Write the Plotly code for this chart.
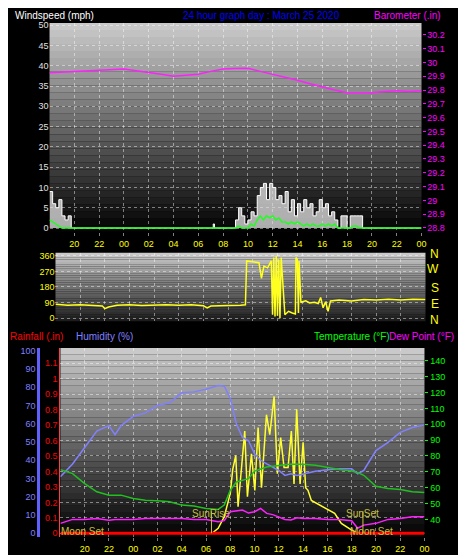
import plotly.graph_objs as go

# time axis: hours since 18:00 the day before (0..30)
hour_ticks = [2, 4, 6, 8, 10, 12, 14, 16, 18, 20, 22, 24, 26, 28, 30]
hour_labels = ['20', '22', '00', '02', '04', '06', '08', '10', '12', '14', '16', '18', '20', '22', '00']

# barometer (in)
baro_t = list(range(31))
baro = [29.925, 29.93, 29.935, 29.94, 29.944, 29.95, 29.953, 29.94, 29.93, 29.915, 29.90,
        29.91, 29.915, 29.935, 29.953, 29.955, 29.958, 29.935, 29.915, 29.895, 29.87,
        29.845, 29.82, 29.80, 29.78, 29.78, 29.78, 29.79, 29.795, 29.79, 29.795]

# wind (mph)
gust_t = [0, 0.25, 0.5, 0.75, 1.0, 1.25, 1.5, 1.75,
          13.1, 13.2, 13.3,
          14.75, 15.0, 15.25, 15.5, 15.75, 16.0, 16.25, 16.5, 16.75,
          17.0, 17.25, 17.5, 17.75, 18.0, 18.25, 18.5, 18.75,
          19.0, 19.25, 19.5, 19.75, 20.0, 20.25, 20.5, 20.75,
          21.0, 21.25, 21.5, 21.75, 22.0, 22.25, 22.5, 22.75,
          23.0, 23.25, 23.5, 23.75, 24.0, 24.25, 24.5, 24.75, 25.0, 25.25, 30]
gust = [9, 6, 5, 7, 3, 2, 3, 0,
        0, 1, 0,
        0, 2, 5, 3, 1, 2, 4, 3, 8,
        10, 11, 7, 11, 10, 7, 8, 6,
        9, 4, 7, 3, 6, 4, 7, 5,
        6, 3, 4, 7, 5, 6, 3, 4,
        2, 0, 3, 3, 0, 3, 3, 3, 3, 0, 0]
wind_avg = [2, 1.5, 1, 0.5, 0, 0, 0, 0,
            0, 0, 0,
            0, 0, 0.5, 0, 0, 0, 1, 0.5, 2,
            3, 2, 3, 2.5, 3, 2, 2.5, 1.5,
            1.5, 1, 1.5, 1, 1.5, 1, 0.5, 1,
            0.5, 1, 0.5, 0.5, 1, 0.5, 1, 0.5,
            1, 0, 0, 0, 0, 0, 0.5, 0.5, 0, 0, 0]

# wind direction (deg)
dir_t = [0, 1, 2, 3, 3.8, 4, 4.3, 5, 6, 7, 8, 9, 10, 11, 12, 12.3, 12.6, 13, 14, 15,
         15.4, 15.5, 16, 16.5, 16.7, 16.9, 17.2, 17.5, 17.6, 17.7, 17.8, 17.9, 18.0, 18.1,
         18.2, 18.3, 18.6, 18.9, 19.2, 19.45, 19.5, 19.6, 19.7, 19.75, 19.9, 20.0, 20.3,
         20.6, 21, 21.3, 21.5, 21.7, 21.9, 22.1, 22.3, 23, 24, 25, 26, 27, 28, 29, 30]
dir_v = [80, 75, 78, 72, 70, 55, 65, 75, 78, 74, 76, 78, 75, 78, 72, 60, 70, 72, 74, 75,
         78, 330, 325, 320, 230, 300, 290, 330, 20, 350, 10, 360, 15, 340,
         0, 350, 20, 40, 30, 25, 350, 340, 30, 330, 90, 95, 100,
         88, 92, 85, 120, 60, 95, 40, 100, 105, 100, 108, 105, 110, 105, 110, 108]

# bottom panel
bt = [0, 1, 2, 3, 4, 4.5, 5, 6, 7, 8, 9, 10, 11, 12, 13, 13.5, 14, 14.5, 15, 15.5, 16, 16.5,
      17, 17.5, 18, 18.5, 19, 19.5, 20, 21, 22, 23, 24, 24.5, 25, 25.5, 26, 27, 28, 29, 30]
humidity = [31, 38, 47, 56, 59, 54, 59, 64, 66, 70, 71.5, 77, 77.5, 79, 81, 80.6, 74, 60, 52.5,
            50.7, 43.5, 40, 38, 36, 34.4, 31.7, 32.6, 31.7, 32.6, 34, 34.8, 35.3, 35.3, 32.6,
            34.4, 39.9, 45.3, 49.8, 55.3, 58, 59.4]
temperature = [71.4, 68.9, 62.6, 57.4, 55.3, 55.5, 55.3, 53.2, 52.1, 51.7, 51.1, 49, 48.4, 46.9,
               46.3, 49, 58.4, 63.6, 64.7, 65.7, 70.5, 72, 73, 73.5, 74.1, 74.5, 74.7, 74.7, 74.7,
               74.1, 72.6, 71.4, 70.5, 69.5, 67.8, 64.5, 60.9, 59.5, 58.8, 57.4, 56.9]
dew_point = [37.5, 40, 40, 40.5, 39.5, 40, 40, 40, 40.5, 40.5, 40.5, 40.5, 40, 40, 38.5, 39.2,
             44.8, 45.5, 45.9, 44, 44.8, 46.9, 43.8, 43, 41.7, 40, 39.6, 41, 40.6, 40.6, 40, 40,
             39.2, 34.4, 36.4, 37, 37.5, 40, 40.6, 41.7, 41.7]
rain_t = [0, 30]
rain = [0, 0]
sol_t = [12.45, 12.5, 13, 13.5, 14, 14.2, 14.45, 14.64, 15.19, 15.41, 15.74, 16.02, 16.29, 16.57,
         16.98, 17.25, 17.61, 17.88, 18.15, 18.43, 18.76, 19.03, 19.25, 19.47, 19.75, 20.0,
         20.21, 20.4, 20.68, 21.23, 21.78, 22.6, 23.15, 23.97, 24.5, 30]
solar = [0, 0, 2.7, 9, 22, 35, 42.6, 14.5, 56, 20, 43.5, 23.5, 58, 25, 65, 54, 75, 32.6, 52.5,
         36, 36, 56, 27, 68, 27, 49.8, 25, 23.5, 18, 16, 13.6, 10.9, 5.4, 1.8, 0, 0]
sunrise, sunset = 12.45, 24.93
moonset_labels = [1.8, 25.6]

FONT = 'Liberation Sans'
GRID = dict(showgrid=True, gridcolor='rgba(255,255,255,0.45)', griddash='dot', gridwidth=1)

fig = go.Figure()

# top panel
fig.add_trace(go.Scatter(x=baro_t, y=baro, yaxis='y2', mode='lines',
                         line=dict(color='#ff20ff', width=1.5)))
fig.add_trace(go.Scatter(x=gust_t, y=gust, mode='lines', line=dict(color='#ffffff', width=1, shape='hv'),
                         fill='tozeroy', fillcolor='rgba(230,230,230,0.75)'))
fig.add_trace(go.Scatter(x=gust_t, y=wind_avg, mode='lines', line=dict(color='#20ff20', width=1.5)))

# middle panel
fig.add_trace(go.Scatter(x=dir_t, y=dir_v, xaxis='x2', yaxis='y3', mode='lines',
                         line=dict(color='#ffff20', width=1.5)))

# bottom panel
fig.add_trace(go.Scatter(x=rain_t, y=rain, xaxis='x3', yaxis='y5', mode='lines',
                         line=dict(color='#ff0000', width=3)))
fig.add_trace(go.Scatter(x=sol_t, y=solar, xaxis='x3', yaxis='y4', mode='lines',
                         line=dict(color='#ffff30', width=1.5)))
fig.add_trace(go.Scatter(x=bt, y=humidity, xaxis='x3', yaxis='y4', mode='lines',
                         line=dict(color='#8080ff', width=1.5)))
fig.add_trace(go.Scatter(x=bt, y=temperature, xaxis='x3', yaxis='y6', mode='lines',
                         line=dict(color='#20c020', width=1.5)))
fig.add_trace(go.Scatter(x=bt, y=dew_point, xaxis='x3', yaxis='y6', mode='lines',
                         line=dict(color='#ff20ff', width=1.5)))

# gradient backgrounds
shapes = []
for xr, yr, top, bot in [('x domain', 'y domain', 205, 0), ('x2 domain', 'y3 domain', 205, 25),
                         ('x3 domain', 'y4 domain', 205, 0)]:
    n = 30
    for i in range(n):
        g = int(bot + (top - bot) * (i + 0.5) / n)
        shapes.append(dict(type='rect', xref=xr, yref=yr, x0=0, x1=1, y0=i / n, y1=(i + 1) / n,
                           fillcolor='rgb(%d,%d,%d)' % (g, g, g), line=dict(width=0), layer='below'))
for t in [sunrise, sunset]:
    shapes.append(dict(type='line', xref='x3', yref='y4', x0=t, x1=t, y0=0, y1=12,
                       line=dict(color='#c8c040', width=1)))

ann = [
    dict(text='Windspeed (mph)', x=0.011, y=1.006, xanchor='left', font=dict(color='#ffffff', size=10)),
    dict(text='24 hour graph day : March 25 2020', x=0.549, y=1.006, xanchor='center',
         font=dict(color='#0000ff', size=10)),
    dict(text='Barometer (.in)', x=0.944, y=1.006, xanchor='right', font=dict(color='#ff00ff', size=10)),
    dict(text='Rainfall (.in)', x=0.0, y=0.422, xanchor='left', font=dict(color='#ff0000', size=10)),
    dict(text='Humidity (%)', x=0.144, y=0.422, xanchor='left', font=dict(color='#8080ff', size=10)),
    dict(text='Temperature (°F)', x=0.66, y=0.422, xanchor='left', font=dict(color='#00ff00', size=10)),
    dict(text='Dew Point (°F)', x=0.972, y=0.422, xanchor='right', font=dict(color='#ff00ff', size=10)),
]
for a in ann:
    a.update(xref='paper', yref='paper', yanchor='top', showarrow=False)
    a['font'].update(family=FONT)
for letter, yp in zip(['N', 'W', 'S', 'E', 'N'], [0.559, 0.531, 0.497, 0.468, 0.439]):
    ann.append(dict(text=letter, x=0.94, y=yp, xref='paper', yref='paper', showarrow=False,
                    font=dict(color='#ffff00', size=12, family=FONT)))
for txt, t, yv in [('SunRise', sunrise, 11), ('SunSet', sunset, 11)]:
    ann.append(dict(text=txt, x=t, y=yv, xref='x3', yref='y4', showarrow=False,
                    font=dict(color='#c8c040', size=10, family=FONT)))
for t in moonset_labels:
    ann.append(dict(text='Moon Set', x=t, y=0.8, xref='x3', yref='y4', showarrow=False,
                    font=dict(color='#c8c040', size=10, family=FONT)))

tick_font = dict(size=9, family=FONT)
xcommon = dict(range=[0, 30], tickvals=hour_ticks, ticktext=hour_labels, zeroline=False,
               tickfont=dict(color='#ffff00', **tick_font), ticks='outside', ticklen=3,
               tickcolor='#808080', **GRID)

fig.update_layout(
    width=466, height=555, margin=dict(l=0, r=0, t=0, b=0),
    paper_bgcolor='#000000', plot_bgcolor='#000000', showlegend=False,
    shapes=shapes, annotations=ann,
    xaxis=dict(domain=[0.0901, 0.897], anchor='y', **xcommon),
    yaxis=dict(domain=[0.598, 0.978], range=[-1, 50.5], tickvals=list(range(0, 51, 5)),
               tickfont=dict(color='#e0e0e0', **tick_font), zeroline=False, **GRID),
    yaxis2=dict(overlaying='y', side='right', anchor='x', range=[28.77, 30.285],
                tickvals=[round(28.8 + 0.1 * i, 1) for i in range(15)],
                ticktext=['%g' % round(28.8 + 0.1 * i, 1) for i in range(15)],
                tickfont=dict(color='#ff00ff', **tick_font), showgrid=False, zeroline=False,
                ticks='outside', ticklen=3, tickcolor='#ff00ff'),
    xaxis2=dict(domain=[0.103, 0.9056], anchor='y3', range=[0, 30], tickvals=hour_ticks,
                showticklabels=False, zeroline=False, **GRID),
    yaxis3=dict(domain=[0.436, 0.5604], anchor='x2', range=[-17, 377],
                tickvals=[0, 90, 180, 270, 360], tickfont=dict(color='#ffff00', **tick_font),
                zeroline=False, **GRID),
    xaxis3=dict(domain=[0.1137, 0.9034], anchor='y5', **xcommon),
    yaxis4=dict(domain=[0.0432, 0.3874], anchor='free', position=0.066, range=[-2.2, 101.6],
                tickvals=list(range(0, 101, 10)), tickfont=dict(color='#8080ff', **tick_font),
                showgrid=False, zeroline=False, showline=True, linecolor='#6060ff', linewidth=3),
    yaxis5=dict(overlaying='y4', anchor='x3', side='left', range=[-0.0256, 1.199],
                tickvals=[round(0.1 * i, 1) for i in range(13)],
                ticktext=['%g' % round(0.1 * i, 1) for i in range(13)],
                tickfont=dict(color='#ff0000', **tick_font), zeroline=False,
                showline=True, linecolor='#ff4040', **GRID),
    yaxis6=dict(overlaying='y4', anchor='x3', side='right', range=[28.75, 148.1],
                tickvals=list(range(40, 141, 10)), tickfont=dict(color='#00ff00', **tick_font),
                showgrid=False, zeroline=False, ticks='outside', ticklen=3, tickcolor='#00ff00'),
)

fig.write_html("out.html")
